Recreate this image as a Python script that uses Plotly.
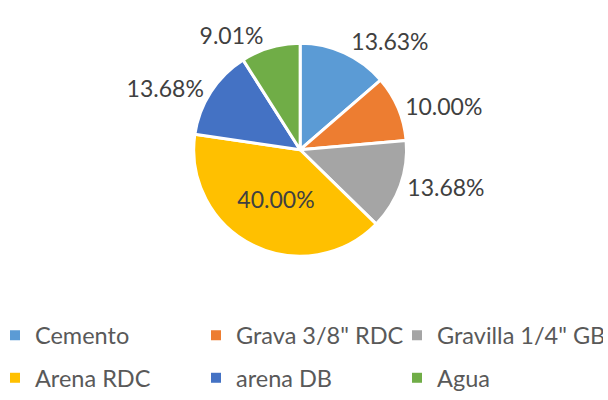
import plotly.graph_objects as go

categories = ["Cemento", "Grava 3/8\" RDC", "Gravilla 1/4\" GB", "Arena RDC", "arena DB", "Agua"]
values = [13.63, 10.00, 13.68, 40.00, 13.68, 9.01]
colors = ["#5B9BD5", "#ED7D31", "#A5A5A5", "#FFC000", "#4472C4", "#70AD47"]
text_positions = ["outside", "outside", "outside", "inside", "outside", "outside"]

FONT = "Lato"

fig = go.Figure()
fig.add_trace(go.Pie(
    labels=categories,
    values=values,
    sort=False,
    direction="clockwise",
    rotation=0,
    marker=dict(colors=colors, line=dict(color="white", width=3)),
    texttemplate="%{value:.2f}%",
    textposition=text_positions,
    insidetextorientation="horizontal",
    textfont=dict(family=FONT, size=23, color="#404040"),
    outsidetextfont=dict(family=FONT, size=23, color="#404040"),
    insidetextfont=dict(family=FONT, size=23, color="#404040"),
    domain=dict(x=[0.3127, 0.6746], y=[0.326, 0.886]),
    showlegend=False,
    hoverinfo="label+percent",
))

# legend entries (two rows of three)
for i, (cat, col) in enumerate(zip(categories, colors)):
    fig.add_trace(go.Scatter(
        x=[None], y=[None], mode="markers",
        marker=dict(symbol="square", size=10, color=col),
        name=cat,
        legend="legend" if i < 3 else "legend2",
        showlegend=True,
    ))

legend_common = dict(
    orientation="h",
    entrywidth=161,
    indentation=-5,
    font=dict(family=FONT, size=23.5, color="#595959"),
    bgcolor="rgba(0,0,0,0)",
    xanchor="left",
    yanchor="middle",
    x=0,
    itemclick=False,
    itemdoubleclick=False,
)

fig.update_layout(
    width=608,
    height=400,
    margin=dict(l=0, r=0, t=0, b=0),
    paper_bgcolor="white",
    plot_bgcolor="white",
    xaxis=dict(visible=False),
    yaxis=dict(visible=False),
    legend=dict(legend_common, y=1 - 353 / 400),
    legend2=dict(legend_common, y=1 - 398 / 400),
)

fig.write_html(
    "out.html",
    config={"displayModeBar": False},
    post_script="document.body.style.margin='0';document.body.style.overflow='hidden';",
)
